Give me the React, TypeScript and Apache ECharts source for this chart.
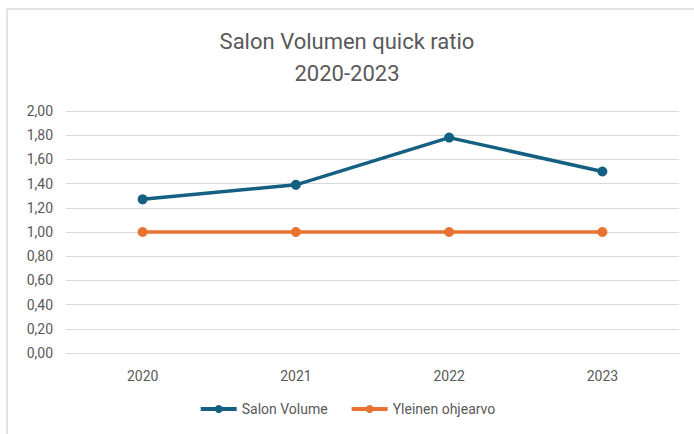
import React, { useEffect, useRef } from "react";
import * as echarts from "echarts";

const categories = ["2020", "2021", "2022", "2023"];
const salonVolume = [1.27, 1.39, 1.78, 1.5];
const ohjearvo = [1.0, 1.0, 1.0, 1.0];
const titleLines = ["Salon Volumen quick ratio", "2020-2023"];

const FONT = "'Roboto', 'Noto Sans', sans-serif";

export default function App() {
  const ref = useRef<HTMLDivElement>(null);
  useEffect(() => {
    document.body.style.margin = "0";
    const chart = echarts.init(ref.current!, null, { renderer: "svg" });
    chart.setOption({
      animation: false,
      backgroundColor: "#ffffff",
      title: {
        text: titleLines.join("\n"),
        left: "center",
        top: 20,
        textStyle: {
          fontFamily: FONT,
          fontSize: 22,
          fontWeight: "normal",
          color: "#595959",
          lineHeight: 32,
        },
      },
      graphic: [
        { type: "line", shape: { x1: 7, y1: 9, x2: 694, y2: 9 }, style: { stroke: "#e3e3e3", lineWidth: 2 } },
        { type: "line", shape: { x1: 7, y1: 9, x2: 7, y2: 434 }, style: { stroke: "#e3e3e3", lineWidth: 2 } },
      ],
      legend: {
        bottom: 13,
        left: "center",
        itemWidth: 36,
        itemHeight: 10,
        itemGap: 22,
        lineStyle: { width: 4 },
        textStyle: { fontFamily: FONT, fontSize: 14, color: "#595959" },
        data: ["Salon Volume", "Yleinen ohjearvo"],
      },
      grid: { left: 66, right: 15, top: 111, bottom: 81 },
      xAxis: {
        type: "category",
        data: categories,
        boundaryGap: true,
        axisLine: { show: true, lineStyle: { color: "#d9d9d9", width: 1 } },
        axisTick: { show: false },
        axisLabel: { fontFamily: FONT, fontSize: 14, color: "#595959", margin: 16 },
      },
      yAxis: {
        type: "value",
        min: 0,
        max: 2,
        interval: 0.2,
        axisLine: { show: false },
        axisTick: { show: false },
        splitLine: { lineStyle: { color: "#d9d9d9", width: 1 } },
        axisLabel: {
          fontFamily: FONT,
          fontSize: 14,
          color: "#595959",
          margin: 13,
          formatter: (v: number) => v.toFixed(2).replace(".", ","),
        },
      },
      series: [
        {
          name: "Salon Volume",
          type: "line",
          data: salonVolume,
          color: "#156082",
          symbol: "circle",
          symbolSize: 10,
          lineStyle: { width: 3.5, color: "#156082" },
          itemStyle: { color: "#156082" },
        },
        {
          name: "Yleinen ohjearvo",
          type: "line",
          data: ohjearvo,
          color: "#E97132",
          symbol: "circle",
          symbolSize: 10,
          lineStyle: { width: 3.5, color: "#E97132" },
          itemStyle: { color: "#E97132" },
        },
      ],
    });
    return () => chart.dispose();
  }, []);
  return (
    <div
      ref={ref}
      style={{ position: "absolute", left: 0, top: 0, width: 694, height: 434 }}
    />
  );
}
